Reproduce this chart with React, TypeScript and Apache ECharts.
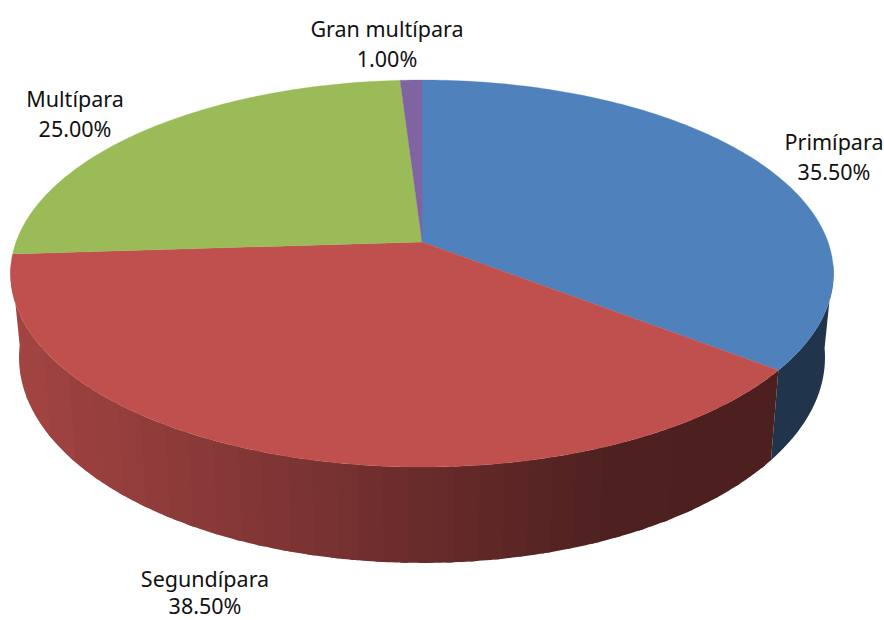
import React, { useEffect, useRef } from "react";
import * as echarts from "echarts";

const CATEGORIES = ["Primípara", "Segundípara", "Multípara", "Gran multípara"];
const VALUES = [35.5, 38.5, 25.0, 1.0];
const COLORS = ["#4f81bd", "#bf504e", "#9bbb59", "#8064a2"];

// Label centre x and the middle y of each line
const LABEL_X = [834, 205, 75, 387];
const LABEL_NAME_Y = [141, 578, 98, 28];
const LABEL_PCT_Y = [171, 605, 128, 58];

// Wall shading: brightness factor along the horizontal position
const SHADE_X = [20, 100, 200, 300, 400, 500, 600, 770, 830];
const SHADE_F = [0.85, 0.79, 0.72, 0.65, 0.56, 0.49, 0.41, 0.4, 0.4];

// Projection of the disc (perspective)
const CX = 422;
const K = 0.1628;
const TOP = { cy: 242, a: 406, b: 188.4 };
const BOTTOM = { cy: 324, a: 397.6, b: 200 };

const project = (disc: { cy: number; a: number; b: number }, deg: number) => {
  const t = (deg * Math.PI) / 180;
  const u = Math.sin(t);
  const v = Math.cos(t);
  const w = 1 + K * v;
  return [CX + (disc.a * u) / w, disc.cy - (disc.b * v) / w];
};

const total = VALUES.reduce((s, v) => s + v, 0);
const startAngle = (i: number) =>
  (VALUES.slice(0, i).reduce((s, v) => s + v, 0) / total) * 360;

const shadeFactor = (x: number) => {
  const bx = Math.floor(x / 24) * 24 + 12;
  if (bx <= SHADE_X[0]) return SHADE_F[0];
  for (let i = 1; i < SHADE_X.length; i++) {
    if (bx <= SHADE_X[i]) {
      const r = (bx - SHADE_X[i - 1]) / (SHADE_X[i] - SHADE_X[i - 1]);
      return SHADE_F[i - 1] + r * (SHADE_F[i] - SHADE_F[i - 1]);
    }
  }
  return SHADE_F[SHADE_F.length - 1];
};

const darken = (hex: string, f: number) => {
  const n = parseInt(hex.slice(1), 16);
  const c = [(n >> 16) & 255, (n >> 8) & 255, n & 255].map((p) => Math.round(p * f));
  return `rgb(${c[0]},${c[1]},${c[2]})`;
};

const seriesData = VALUES.map((value, i) => ({ name: CATEGORIES[i], value }));

const renderWall = (params: any, api: any) => {
  const i = params.dataIndex;
  const a0 = startAngle(i);
  const a1 = a0 + (api.value(0) / total) * 360;
  const step = 0.5;
  const n = Math.max(1, Math.ceil((a1 - a0) / step));
  const ang = (s: number) => a0 + ((a1 - a0) * s) / n;
  const children: any[] = [];
  const flush = (from: number, to: number, factor: number) => {
    // each band reaches a little further so the next band covers the seam
    const end = Math.min(n, to + 2);
    const top: number[][] = [];
    const bottom: number[][] = [];
    for (let s = from; s <= end; s++) {
      top.push(project(TOP, ang(s)));
      bottom.unshift(project(BOTTOM, ang(s)));
    }
    children.push({
      type: "polygon",
      shape: { points: top.concat(bottom) },
      style: { fill: darken(COLORS[i], factor) },
      silent: true,
    });
  };
  let start = -1;
  let current = 0;
  for (let s = 0; s < n; s++) {
    const mid = (ang(s) + ang(s + 1)) / 2;
    const visible = Math.cos((mid * Math.PI) / 180) <= -0.12;
    const f = visible ? shadeFactor((project(TOP, mid)[0] + project(BOTTOM, mid)[0]) / 2) : -1;
    if (start >= 0 && f !== current) {
      flush(start, s, current);
      start = -1;
    }
    if (visible && start < 0) {
      start = s;
      current = f;
    }
  }
  if (start >= 0) flush(start, n, current);
  return { type: "group", children };
};

const renderTop = (params: any, api: any) => {
  const i = params.dataIndex;
  const a0 = startAngle(i);
  const a1 = a0 + (api.value(0) / total) * 360;
  const n = Math.max(4, Math.ceil(a1 - a0));
  const points: number[][] = [[CX, TOP.cy]];
  for (let s = 0; s <= n; s++) points.push(project(TOP, a0 + ((a1 - a0) * s) / n));
  return {
    type: "polygon",
    shape: { points },
    style: { fill: COLORS[i], stroke: COLORS[i], lineWidth: 0.3 },
    silent: true,
  };
};

const labelStyle = { font: '21.5px "Noto Sans", sans-serif', fill: "#111111", align: "center", verticalAlign: "middle" };

const renderLabel = (params: any, api: any) => {
  const i = params.dataIndex;
  return {
    type: "group",
    children: [
      { type: "text", x: LABEL_X[i], y: LABEL_NAME_Y[i], silent: true, style: { ...labelStyle, text: CATEGORIES[i] } },
      { type: "text", x: LABEL_X[i], y: LABEL_PCT_Y[i], silent: true, style: { ...labelStyle, text: `${api.value(0).toFixed(2)}%` } },
    ],
  };
};

export default function App() {
  const ref = useRef<HTMLDivElement>(null);
  useEffect(() => {
    const chart = echarts.init(ref.current!, undefined, { renderer: "svg" });
    chart.setOption({
      animation: false,
      backgroundColor: "#ffffff",
      series: [
        { type: "custom", coordinateSystem: "none", data: seriesData, renderItem: renderWall, z: 1 },
        { type: "custom", coordinateSystem: "none", data: seriesData, renderItem: renderTop, z: 2 },
        { type: "custom", coordinateSystem: "none", data: seriesData, renderItem: renderLabel, z: 3 },
      ],
    });
    return () => chart.dispose();
  }, []);
  return <div ref={ref} style={{ position: "fixed", left: 0, top: 0, width: 884, height: 620 }} />;
}
